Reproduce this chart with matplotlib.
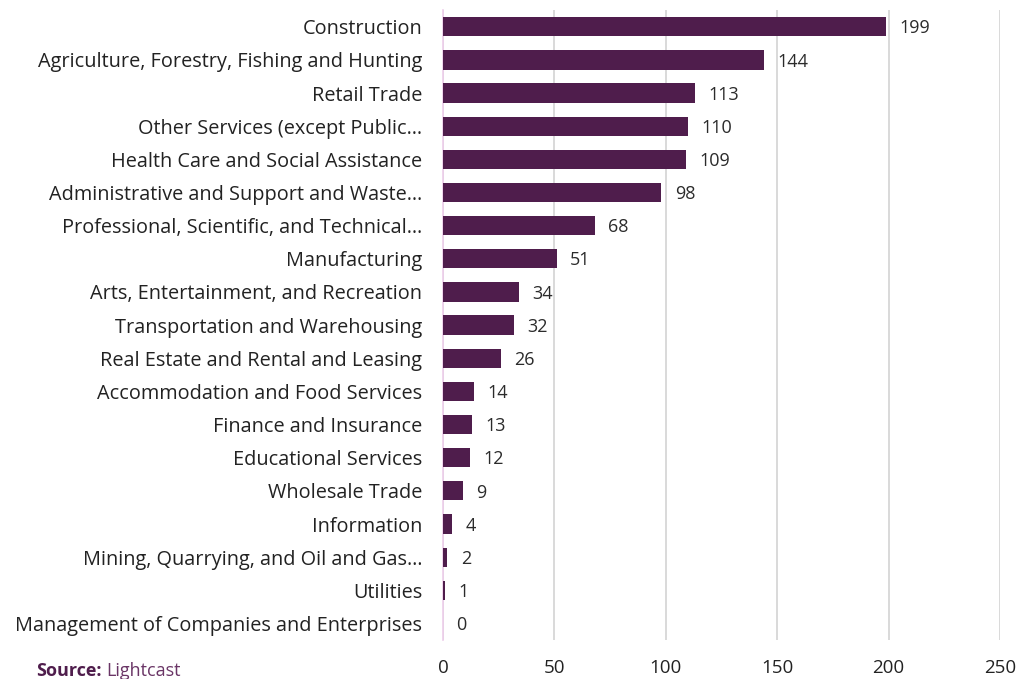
import matplotlib.pyplot as plt

# data (top to bottom)
industries = [
    "Construction",
    "Agriculture, Forestry, Fishing and Hunting",
    "Retail Trade",
    "Other Services (except Public\u2026",
    "Health Care and Social Assistance",
    "Administrative and Support and Waste\u2026",
    "Professional, Scientific, and Technical\u2026",
    "Manufacturing",
    "Arts, Entertainment, and Recreation",
    "Transportation and Warehousing",
    "Real Estate and Rental and Leasing",
    "Accommodation and Food Services",
    "Finance and Insurance",
    "Educational Services",
    "Wholesale Trade",
    "Information",
    "Mining, Quarrying, and Oil and Gas\u2026",
    "Utilities",
    "Management of Companies and Enterprises",
]
counts = [199, 144, 113, 110, 109, 98, 68, 51, 34, 32, 26, 14, 13, 12, 9, 4, 2, 1, 0]
x_ticks = [0, 50, 100, 150, 200, 250]

plt.rcParams['font.family'] = ['Open Sans', 'DejaVu Sans']
bar_color = "#4F1D4C"

fig = plt.figure(figsize=(10.17, 6.79), dpi=100)
ax = fig.add_axes([0.4356, 0.0574, 0.5477, 0.9276])

pos = list(range(len(industries)))
ax.barh(pos, counts, height=0.58, color=bar_color, zorder=3)
for p, v in zip(pos, counts):
    ax.text(v + 6, p + 0.05, str(v), va='center', ha='left', fontsize=13, color="#2B2B2B")

ax.set_ylim(len(industries) - 0.5, -0.5)
ax.set_xlim(0, 250)
ax.set_yticks(pos)
ax.set_yticklabels(industries, fontsize=14.3, color="#222222")
ax.set_xticks(x_ticks)
ax.set_xticklabels([str(t) for t in x_ticks], fontsize=13.5, color="#222222")
ax.tick_params(axis='both', length=0)
ax.tick_params(axis='y', pad=15)
ax.tick_params(axis='x', pad=14)

ax.grid(axis='x', color="#D3D3D3", linewidth=1.2, zorder=0)
for s in ['top', 'right', 'bottom']:
    ax.spines[s].set_visible(False)
ax.spines['left'].set_color("#EDCDEA")
ax.spines['left'].set_linewidth(1.2)

fig.text(0.036, 0.005, "Source:", fontsize=13, fontweight='bold', color=bar_color)
fig.text(0.104, 0.005, "Lightcast", fontsize=13, color="#6A3566")

fig.savefig("out.png", dpi=100)
